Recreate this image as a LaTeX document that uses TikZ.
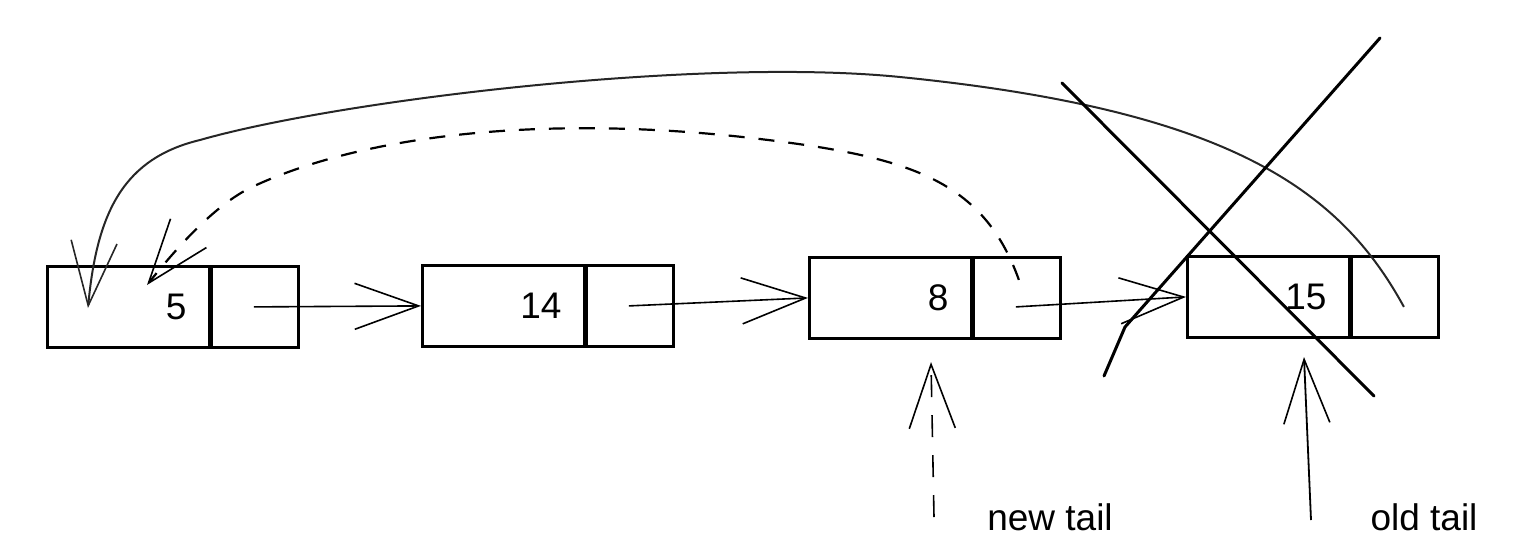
\documentclass[tikz,border=0pt]{standalone}
\usepackage{fontspec}
\setmainfont{Liberation Sans}
\usetikzlibrary{arrows.meta}
\begin{document}
\begin{tikzpicture}[x=1pt,y=-1pt,
  datacell/.style={draw, line width=2.8pt, minimum width=162pt, minimum height=81pt,
    text width=116pt, align=right, inner sep=0pt, anchor=north west,
    font=\fontsize{37}{40}\selectfont},
  ptrcell/.style={draw, line width=2.8pt, minimum width=89pt, minimum height=81pt,
    inner sep=0pt, anchor=north west},
  divider/.style={line width=4.5pt},
  tip/.style={-{Straight Barb[length=64pt,width=46pt,line width=1.6pt]}},
  link/.style={tip, line width=1.6pt},
  backlink/.style={tip, line width=2pt, black!85},
  dashlink/.style={tip, line width=2.2pt, dash pattern=on 16pt off 14pt},
  cross/.style={line width=3pt, line cap=round, line join=round},
  tag/.style={font=\fontsize{37}{40}\selectfont, inner sep=0pt}]
\useasboundingbox (0,0) rectangle (1526,558);

% list elements
\node[datacell] (d1) at (46,265) {5};
\node[ptrcell]  (p1) at (208,265) {};
\node[datacell] (d2) at (421,264) {14};
\node[ptrcell]  (p2) at (583,264) {};
\node[datacell] (d3) at (808,256) {8};
\node[ptrcell]  (p3) at (970,256) {};
\node[datacell] (d4) at (1186,255) {15};
\node[ptrcell]  (p4) at (1348,255) {};

\foreach \n in {d1,d2,d3,d4}{\draw[divider] (\n.north east) -- (\n.south east);}

% next links
\draw[link] (p1.center) -- (d2.west);
\draw[link] (p2.center) -- (d3.west);
\draw[link] ([yshift=-9pt]p3.center) -- (d4.west);

% named end points
\coordinate (s4) at ([shift={(10,10)}]p4.center);
\coordinate (s3) at ([shift={(3,-18)}]p3.center);
\coordinate (t1) at ([shift={(42,43)}]d1.north west);
\coordinate (u1) at ([shift={(101,20)}]d1.north west);

% old tail -> head (solid)
\draw[backlink] (s4) .. controls (1340,190) and (1230,110) .. (900,77)
  .. controls (700,57) and (340,100) .. (200,140)
  .. controls (125,158) and (97,210) .. (t1);

% new tail -> head (dashed)
\draw[dashlink] (s3) .. controls (983,180) and (910,157) .. (760,139)
  .. controls (560,115) and (372,131) .. (252,187)
  .. controls (212,206) and (171,255) .. (u1);

% crossing out the old tail
\draw[cross] (1380,38) -- (1125,327) -- (1104,376);
\draw[cross] (1062,83) -- (1374,396);

% tail pointers
\node[tag] (nt) at (1050,517) {new tail};
\node[tag] (ot) at (1424,517) {old tail};
\coordinate (nts) at (934,517);
\coordinate (ots) at (1311,520);
\draw[link, dash pattern=on 22pt off 18pt] (nts) -- ([shift={(123,106)}]d3.north west);
\draw[link, line width=1.8pt] (ots) -- ([shift={(118,102)}]d4.north west);
\end{tikzpicture}
\end{document}
